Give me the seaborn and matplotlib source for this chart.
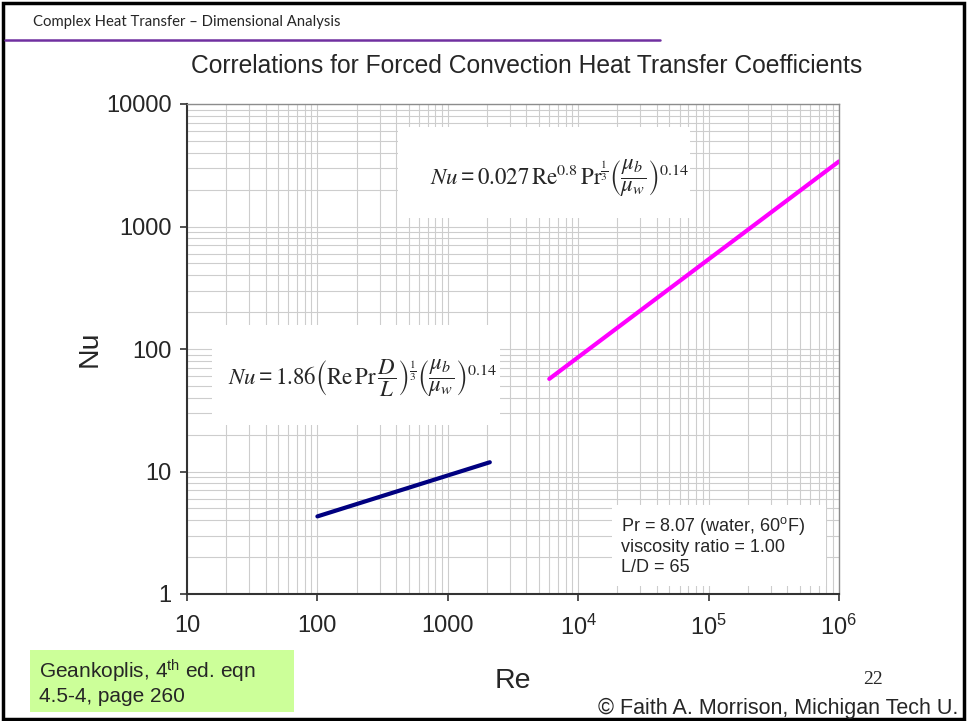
import numpy as np
import matplotlib
matplotlib.use('Agg')
import matplotlib.pyplot as plt
import seaborn as sns
from matplotlib.patches import Rectangle
from matplotlib.lines import Line2D
from matplotlib.ticker import LogLocator, NullFormatter

# data
re_laminar = [100, 2100]
nu_laminar = [4.3, 11.9]
re_turbulent = [6000, 1e6]
nu_turbulent = [57, 3400]

x_ticks = [10, 100, 1000, 1e4, 1e5, 1e6]
x_labels = ['10', '100', '1000', '10$^{4}$', '10$^{5}$', '10$^{6}$']
y_ticks = [1, 10, 100, 1000, 10000]
y_labels = ['1', '10', '100', '1000', '10000']

sns.set_theme(style='white')
plt.rcParams['font.family'] = ['Liberation Sans', 'DejaVu Sans']
plt.rcParams['mathtext.fontset'] = 'custom'
plt.rcParams['mathtext.rm'] = 'Liberation Sans'
plt.rcParams['mathtext.it'] = 'Liberation Sans:italic'
plt.rcParams['mathtext.default'] = 'regular'

W, H = 968, 721
fig = plt.figure(figsize=(9.68, 7.21), dpi=100)
ax = fig.add_axes([187 / W, 1 - 594 / H, (839 - 187) / W, (594 - 104) / H])

def px(x, y):
    return x / W, 1 - y / H

sns.lineplot(x=re_laminar, y=nu_laminar, color='#000080', lw=3, ax=ax, zorder=3)
sns.lineplot(x=re_turbulent, y=nu_turbulent, color='#ff00ff', lw=3, ax=ax, zorder=3)

ax.set_xscale('log')
ax.set_yscale('log')
ax.set_xlim(10, 1e6)
ax.set_ylim(1, 10000)
ax.set_xticks(x_ticks, x_labels)
ax.set_yticks(y_ticks, y_labels)
ax.xaxis.set_minor_locator(LogLocator(base=10, subs=np.arange(2, 10)))
ax.yaxis.set_minor_locator(LogLocator(base=10, subs=np.arange(2, 10)))
ax.xaxis.set_minor_formatter(NullFormatter())
ax.yaxis.set_minor_formatter(NullFormatter())
ax.set_axisbelow(True)
ax.grid(which='both', color='#cdcdcd', lw=0.8)
ax.tick_params(which='major', axis='both', length=5, width=1.2, color='#333333',
               labelsize=17, direction='out')
ax.tick_params(axis='x', pad=10)
ax.tick_params(axis='y', pad=6)
ax.tick_params(which='minor', length=0)
ax.xaxis.set_ticks_position('bottom')
ax.yaxis.set_ticks_position('left')
for side in ['left', 'bottom']:
    ax.spines[side].set_color('#333333')
    ax.spines[side].set_linewidth(1.5)
for side in ['top', 'right']:
    ax.spines[side].set_color('#8c8c8c')
    ax.spines[side].set_linewidth(1.0)

ax.set_xlabel('Re', fontsize=20.5)
ax.set_ylabel('Nu', fontsize=20.5)
ax.xaxis.set_label_coords(0.5, -0.152)
ax.yaxis.set_label_coords(-0.130, 0.5)

# white boxes behind the equations and notes
for (x0, y0, x1, y1) in [(398, 127, 690, 218), (212, 325, 500, 425), (612, 505, 826, 586)]:
    ax.add_patch(Rectangle(px(x0, y1), (x1 - x0) / W, (y1 - y0) / H, transform=fig.transFigure,
                           facecolor='white', edgecolor='none', zorder=2, clip_on=False))

third = r'^{\frac{\mathrm{1}}{\mathrm{3}}}'
mu_frac = r'\left(\dfrac{\mathit{\mu_b}}{\mathit{\mu_w}}\right)^{\mathrm{0.14}}'
eq_turb = (r'$\mathit{Nu} = \mathrm{0.027}\,\mathrm{Re}^{\mathrm{0.8}}\,\mathrm{Pr}' + third
           + mu_frac + '$')
eq_lam = (r'$\mathit{Nu} = \mathrm{1.86}\left(\mathrm{Re}\,\mathrm{Pr}\,\dfrac{\mathit{D}}{\mathit{L}}\right)'
          + third + mu_frac + '$')
fig.text(*px(430, 178), eq_turb, fontsize=16.5, math_fontfamily='stix', va='center', ha='left', zorder=5)
fig.text(*px(228, 378), eq_lam, fontsize=16.5, math_fontfamily='stix', va='center', ha='left', zorder=5)

fig.text(*px(621, 526), 'Pr = 8.07 (water, 60$^{o}$F)', fontsize=13, va='center')
fig.text(*px(621, 547), 'viscosity ratio = 1.00', fontsize=13, va='center')
fig.text(*px(621, 568), 'L/D = 65', fontsize=13, va='center')

# slide decorations
fig.text(*px(527, 66), 'Correlations for Forced Convection Heat Transfer Coefficients',
         fontsize=17.7, ha='center', va='center')
fig.text(*px(33, 22), 'Complex Heat Transfer \u2013 Dimensional Analysis',
         fontsize=10.7, ha='left', va='center', family=['Lato', 'DejaVu Sans'])
fig.add_artist(Line2D([5 / W, 660 / W], [1 - 40 / H, 1 - 40 / H], color='#7030a0', lw=1.8))
fig.add_artist(Rectangle((3 / W, 2 / H), (W - 7) / W, (H - 5) / H, transform=fig.transFigure,
                         facecolor='none', edgecolor='black', lw=2.5))

fig.add_artist(Rectangle(px(30, 712), (294 - 30) / W, (712 - 650) / H, transform=fig.transFigure,
                         facecolor='#ccff99', edgecolor='none'))
fig.text(*px(39, 671), 'Geankoplis, 4$^{th}$ ed. eqn', fontsize=15, va='center')
fig.text(*px(39, 696), '4.5-4, page 260', fontsize=15, va='center')

fig.text(*px(873, 679), '22', fontsize=14, ha='center', va='center', family='Liberation Serif')
fig.text(*px(958, 708), '\u00a9 Faith A. Morrison, Michigan Tech U.', fontsize=15.5,
         ha='right', va='center')

fig.savefig('out.png', dpi=100)
